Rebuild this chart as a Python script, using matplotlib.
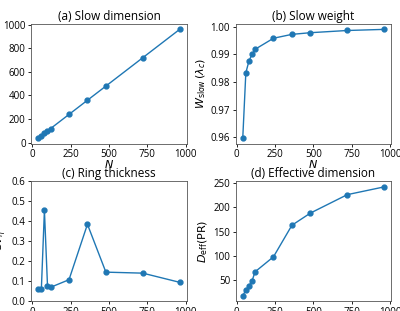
import matplotlib
matplotlib.use('Agg')
import matplotlib.pyplot as plt

plt.rcParams['font.family'] = ['Open Sans', 'DejaVu Sans']
plt.rcParams['mathtext.fontset'] = 'dejavusans'

# System sizes
N = [40, 60, 80, 100, 120, 240, 360, 480, 720, 960]

# (a) slow dimension
d_slow = [38.4, 59.0, 79.0, 99.0, 119.0, 239.0, 359.0, 478.9, 719.0, 959.0]
# (b) slow weight
w_slow = [0.9597, 0.9833, 0.9875, 0.9900, 0.9918, 0.9958, 0.9972, 0.9978, 0.9986, 0.9990]
# (c) ring thickness
cv_eta = [0.062, 0.058, 0.455, 0.078, 0.069, 0.107, 0.385, 0.145, 0.140, 0.094]
# (d) effective dimension
d_eff = [18, 29, 38, 48, 67, 98, 163, 188, 226, 242]

fig, axes = plt.subplots(2, 2, figsize=(4.0, 3.11), dpi=100)
fig.subplots_adjust(left=0.078, right=0.978, top=0.923, bottom=0.032,
                    wspace=0.315, hspace=0.317)

panels = [
    (axes[0, 0], d_slow, '(a) Slow dimension', r'$D_{\mathrm{slow}} = N\,W_{\mathrm{slow}}$'),
    (axes[0, 1], w_slow, '(b) Slow weight', r'$W_{\mathrm{slow}}\,(\lambda_c)$'),
    (axes[1, 0], cv_eta, '(c) Ring thickness', r'$\mathrm{CV}_{\eta}$'),
    (axes[1, 1], d_eff, '(d) Effective dimension', r'$D_{\mathrm{eff}}(\mathrm{PR})$'),
]

for ax, vals, title, ylab in panels:
    ax.plot(N, vals, color='#1f77b4', marker='o', markersize=3.5, linewidth=1)
    ax.set_title(title, fontsize=8.5, pad=3)
    ax.set_ylabel(ylab, fontsize=8, labelpad=2)
    ax.tick_params(labelsize=7, length=2.5, width=0.6, pad=1.5)
    ax.set_xticks([0, 250, 500, 750, 1000])
    for s in ax.spines.values():
        s.set_linewidth(0.6)
        s.set_color('#555555')

axes[0, 0].set_xlabel('$N$', fontsize=8, labelpad=-1)
axes[0, 1].set_xlabel('$N$', fontsize=8, labelpad=-1)
axes[0, 0].yaxis.set_label_coords(-0.2, 0.5)
axes[0, 0].set_yticks([0, 200, 400, 600, 800, 1000])
axes[0, 1].set_yticks([0.96, 0.97, 0.98, 0.99, 1.00])
axes[1, 0].set_ylim(0, 0.6)

fig.savefig('out.png', dpi=100)
